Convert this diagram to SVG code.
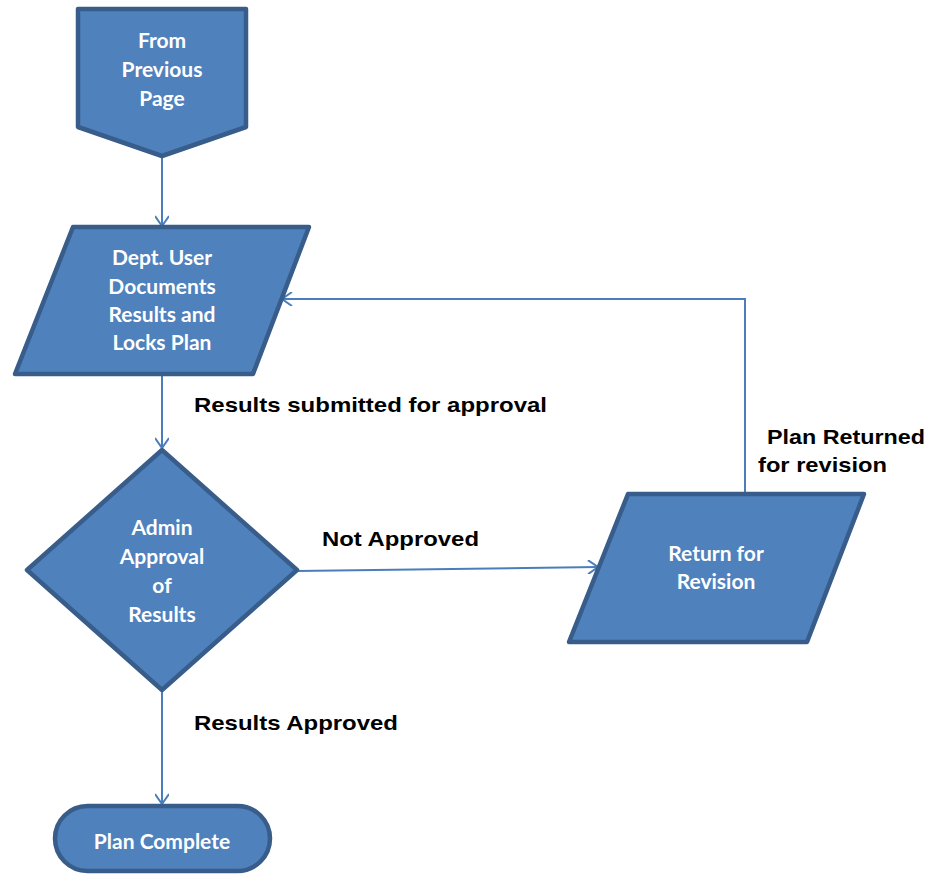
<svg xmlns="http://www.w3.org/2000/svg" width="930" height="874" viewBox="0 0 930 874">
<defs>
<marker id="arr" markerWidth="14" markerHeight="14" refX="12" refY="7" orient="auto" markerUnits="userSpaceOnUse">
<path d="M2,0 L12,7 L2,14" fill="none" stroke="#4a7ebb" stroke-width="2"/>
</marker>
<style>
.shape{fill:#4f81bd;stroke:#385d8a;stroke-width:4.5;stroke-linejoin:round}
.nt{font-family:Lato,"Open Sans","Liberation Sans",sans-serif;font-weight:bold;font-size:21px;fill:#ffffff;text-anchor:middle}
.lbl{font-family:"Liberation Sans",Arial,sans-serif;font-weight:bold;font-size:21px;fill:#000000}
.con{fill:none;stroke:#4a7ebb;stroke-width:2;marker-end:url(#arr)}
</style>
</defs>
<rect width="930" height="874" fill="#ffffff"/>
<g id="connectors">
<line class="con" x1="162" y1="157" x2="162" y2="226"/>
<line class="con" x1="162" y1="375" x2="162" y2="448"/>
<line class="con" x1="297" y1="571" x2="598" y2="567"/>
<polyline class="con" points="745,494 745,299 282,299"/>
<line class="con" x1="162" y1="690" x2="162" y2="804"/>
</g>
<g id="n-from">
<polygon class="shape" points="78,9 246,9 246,127 162,156 78,127"/>
<text class="nt" x="162" y="48">From</text>
<text class="nt" x="162" y="77">Previous</text>
<text class="nt" x="162" y="106">Page</text>
</g>
<g id="n-dept">
<polygon class="shape" points="73,227 309,227 253,374 15,374"/>
<text class="nt" x="162" y="265">Dept. User</text>
<text class="nt" x="162" y="294">Documents</text>
<text class="nt" x="162" y="322">Results and</text>
<text class="nt" x="162" y="350">Locks Plan</text>
</g>
<g id="n-admin">
<polygon class="shape" points="162,450 297,570 162,690 27,570"/>
<text class="nt" x="162" y="535">Admin</text>
<text class="nt" x="162" y="564">Approval</text>
<text class="nt" x="162" y="593">of</text>
<text class="nt" x="162" y="622">Results</text>
</g>
<g id="n-return">
<polygon class="shape" points="628,494 864,494 807,642 569,642"/>
<text class="nt" x="716" y="561">Return for</text>
<text class="nt" x="716" y="589">Revision</text>
</g>
<g id="n-complete">
<rect class="shape" x="55" y="806" width="215" height="65" rx="32.5" ry="32.5"/>
<text class="nt" x="162" y="849">Plan Complete</text>
</g>
<g id="labels">
<text class="lbl" x="194" y="412" textLength="353" lengthAdjust="spacingAndGlyphs">Results submitted for approval</text>
<text class="lbl" x="322" y="546" textLength="157" lengthAdjust="spacingAndGlyphs">Not Approved</text>
<text class="lbl" x="194" y="730" textLength="204" lengthAdjust="spacingAndGlyphs">Results Approved</text>
<text class="lbl" x="767" y="444" textLength="158" lengthAdjust="spacingAndGlyphs">Plan Returned</text>
<text class="lbl" x="758" y="472" textLength="129" lengthAdjust="spacingAndGlyphs">for revision</text>
</g>
</svg>
